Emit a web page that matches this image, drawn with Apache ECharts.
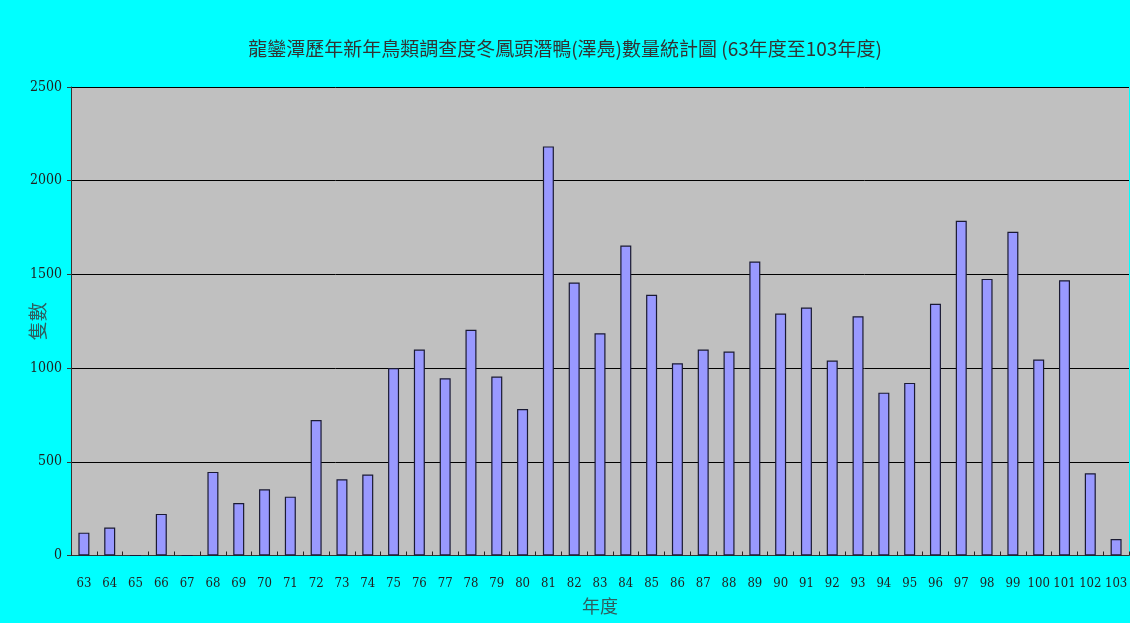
<!DOCTYPE html>
<html>
<head>
<meta charset="utf-8">
<script src="https://cdn.jsdelivr.net/npm/echarts@6/dist/echarts.min.js"></script>
<style>
html,body{margin:0;padding:0;background:#00FFFF;}
#c{width:1130px;height:623px;}
</style>
</head>
<body>
<div id="c"></div>
<script>
const categories = ['63','64','65','66','67','68','69','70','71','72','73','74','75','76','77','78','79','80','81','82','83','84','85','86','87','88','89','90','91','92','93','94','95','96','97','98','99','100','101','102','103'];
const counts = [122,149,0,222,0,446,280,353,314,723,407,432,1000,1099,946,1204,955,782,2183,1457,1186,1654,1391,1026,1099,1088,1569,1291,1323,1040,1277,869,921,1343,1786,1476,1727,1046,1469,439,88];
const yTicks = [0,500,1000,1500,2000,2500];
const titleText = '龍鑾潭歷年新年鳥類調查度冬鳳頭潛鴨(澤鳧)數量統計圖 (63年度至103年度)';
const xName = '年度';
const yName = '隻數';

const chart = echarts.init(document.getElementById('c'), null, {renderer:'canvas'});
const labelFont = '"DejaVu Serif Condensed","Liberation Serif",serif';
chart.setOption({
  backgroundColor:'#00FFFF',
  animation:false,
  title:{
    text:titleText,
    left:'center',
    top:34,
    textStyle:{fontFamily:'"Noto Sans CJK TC",sans-serif',fontSize:19,fontWeight:'normal',color:'#333333'}
  },
  grid:{
    left:71,right:1,top:87,bottom:67.5,
    containLabel:false,
    outerBoundsMode:'none',
    show:true,backgroundColor:'#C0C0C0',borderWidth:0
  },
  xAxis:{
    type:'category',
    data:categories,
    name:xName,
    nameLocation:'middle',
    nameGap:42,
    nameMoveOverlap:false,
    nameTextStyle:{fontFamily:'"Noto Sans CJK TC",sans-serif',fontSize:18,color:'#2F5F5F'},
    axisLine:{lineStyle:{color:'#333333',width:1}},
    axisTick:{show:true,inside:true,length:4,lineStyle:{color:'#222222'}},
    axisLabel:{interval:0,margin:22,fontFamily:labelFont,fontSize:13,color:'#222222'}
  },
  yAxis:{
    type:'value',
    min:yTicks[0],max:yTicks[yTicks.length-1],interval:yTicks[1]-yTicks[0],
    name:yName,
    nameLocation:'middle',
    nameRotate:90,
    nameGap:24,
    nameMoveOverlap:false,
    nameTextStyle:{fontFamily:'"Noto Sans CJK TC",sans-serif',fontSize:19,color:'#2F5F5F',padding:[0,0,0,0]},
    axisLine:{show:true,lineStyle:{color:'#333333',width:1}},
    axisTick:{show:true,length:4,lineStyle:{color:'#333333'}},
    axisLabel:{margin:9,fontFamily:labelFont,fontSize:14,color:'#222222',formatter:function(v){return String(v);}},
    splitLine:{show:true,lineStyle:{color:'#000000',width:1}}
  },
  series:[{
    type:'bar',
    data:counts,
    barWidth:11,
    itemStyle:{color:'#9999FF',borderColor:'#1a1a33',borderWidth:1.2}
  }]
});
</script>
</body>
</html>
